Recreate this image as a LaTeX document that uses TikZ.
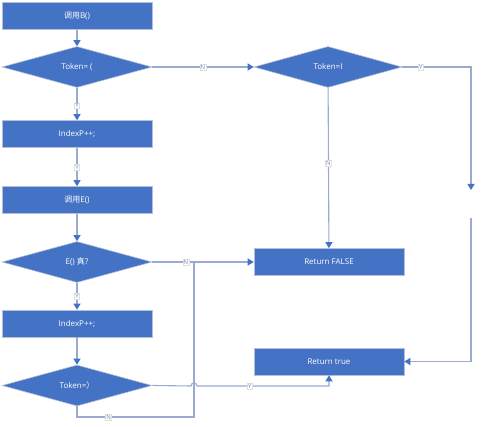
\documentclass[tikz,border=0pt]{standalone}
\usepackage{fontspec}
\setmainfont{Open Sans}
\newfontfamily\cjk{Noto Sans CJK SC}
\usetikzlibrary{shapes.geometric,arrows.meta}
\definecolor{boxblue}{HTML}{4472C4}
\definecolor{boxedge}{HTML}{B4C0D8}
\definecolor{linegray}{HTML}{9AAAD0}
\definecolor{labgray}{HTML}{7A8AB8}
\begin{document}
\begin{tikzpicture}[x=1pt,y=-1pt,
  blok/.style={rectangle,fill=boxblue,draw=boxedge,line width=0.6pt,text=white,
    minimum width=150pt,minimum height=27pt,inner sep=0pt,font=\fontsize{8}{9}\selectfont},
  uslovie/.style={diamond,fill=boxblue,draw=boxedge,line width=0.6pt,text=white,aspect=3.6,
    minimum width=150pt,minimum height=41pt,inner sep=0pt,font=\fontsize{8}{9}\selectfont},
  metka/.style={fill=white,draw=gray!25,line width=0.3pt,text=labgray,inner sep=0.7pt,
    font=\fontsize{6}{6}\selectfont},
  svyaz/.style={draw=linegray,line width=1.1pt},
  strelka/.style={svyaz,-{Triangle[width=7pt,length=6pt,color=boxblue]}}]
\useasboundingbox (0,0) rectangle (501,427);

%Блоки слева
\node[blok] (b) at (77,16) {{\cjk 调用}B()};
\node[uslovie] (t1) at (77,67) {Token= (};
\node[blok] (i1) at (77,134) {IndexP++;};
\node[blok] (e) at (77,200) {{\cjk 调用}E()};
\node[uslovie] (et) at (77,262) {E() {\cjk 真}?};
\node[blok] (i2) at (77,323.5) {IndexP++;};
\node[uslovie] (t2) at (77,385.5) {Token={\cjk ）}};

%Блоки справа
\node[uslovie,minimum width=148pt] (ti) at (328,67) {Token=I};
\node[blok] (rf) at (329,262) {Return FALSE};
\node[blok] (rt) at (329,361.5) {Return true};

\coordinate (p1) at (471,190);
\coordinate (p2) at (471,218);
\coordinate (u) at (194,262);

%Связи
\draw[strelka] (b) -- (t1);
\draw[strelka] (t1) -- node[metka,pos=0.55] {Y} (i1);
\draw[strelka] (i1) -- node[metka,pos=0.5] {Y} (e);
\draw[strelka] (e) -- (et);
\draw[strelka] (et) -- node[metka,pos=0.5] {Y} (i2);
\draw[strelka] (i2) -- (t2);
\draw[strelka] (t1) -- node[metka,pos=0.5] {N} (ti);
\draw[strelka] (ti) -- node[metka,pos=0.47] {N} (rf);
\draw[strelka] (ti.east) -- node[metka,pos=0.27] {Y} (ti.east -| p1) -- (p1);
\draw[strelka] (p2) -- (p2 |- rt.east) -- (rt.east);
\draw[strelka] (et) -- node[metka,pos=0.33] {N} (rf);
\draw[svyaz] (t2.south) -- (77,417) -- node[metka,pos=0.27] {N} (u |- 0,417) -- (u);
\draw[strelka] (t2.east) -- (191,386) .. controls (191,382) and (197,382) .. (197,386)
  -- node[metka,pos=0.4] {Y} (rt.south |- 0,386) -- (rt.south);

\end{tikzpicture}
\end{document}
